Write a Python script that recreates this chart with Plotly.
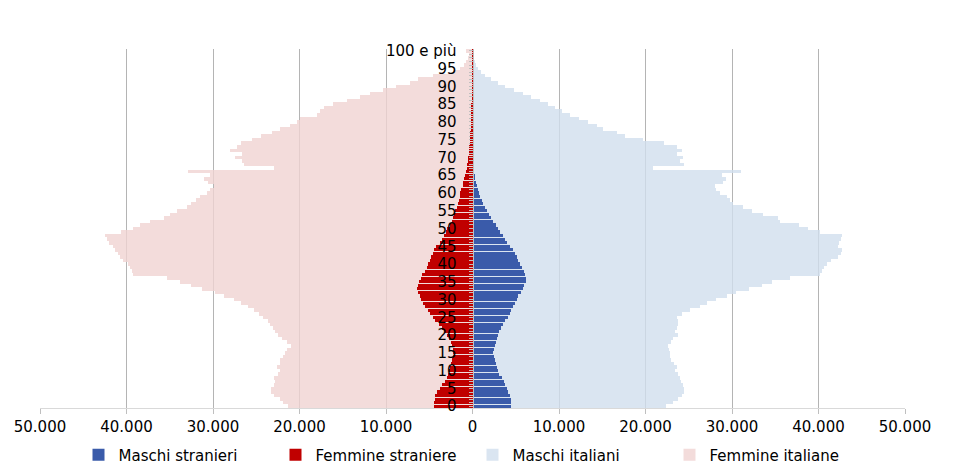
import plotly.graph_objects as go

AGES = list(range(101))
AGE_LABELS = [("100 e più" if a == 100 else str(a)) if a % 5 == 0 else "" for a in AGES]

X_TICKS = [-50000, -40000, -30000, -20000, -10000, 0, 10000, 20000, 30000, 40000, 50000]
X_TICK_TEXT = ["50.000", "40.000", "30.000", "20.000", "10.000", "0",
               "10.000", "20.000", "30.000", "40.000", "50.000"]

maschi_stranieri = [
    4500, 4500, 4400, 4300, 4100, 4000, 3800, 3600, 3400, 3100,
    2900, 2800, 2700, 2550, 2450, 2400, 2450, 2600, 2700, 2800,
    2950, 3100, 3300, 3500, 3800, 4100, 4300, 4500, 4700, 4900,
    5100, 5300, 5600, 5800, 6000, 6200, 6200, 6100, 5900, 5700,
    5500, 5300, 5100, 4900, 4700, 4300, 4000, 3800, 3500, 3200,
    3000, 2700, 2400, 2100, 1900, 1650, 1450, 1250, 1050, 850,
    720, 580, 470, 380, 320, 270, 230, 190, 160, 140,
    120, 105, 95, 85, 75, 65, 55, 50, 45, 40,
    35, 30, 25, 22, 20, 18, 15, 12, 10, 8,
    7, 6, 5, 4, 4, 3, 3, 2, 2, 1, 1]

femmine_straniere = [
    4400, 4400, 4300, 4300, 4100, 3800, 3500, 3200, 3000, 2800,
    2700, 2600, 2500, 2400, 2300, 2250, 2250, 2400, 2500, 2700,
    2900, 3200, 3500, 3900, 4300, 4600, 4900, 5200, 5500, 5700,
    5900, 6100, 6300, 6400, 6300, 6200, 6000, 5800, 5500, 5300,
    5100, 4900, 4800, 4600, 4400, 4200, 3800, 3500, 3300, 3100,
    2900, 2600, 2400, 2200, 2100, 2000, 1850, 1700, 1600, 1500,
    1400, 1300, 1150, 1050, 950, 850, 780, 650, 600, 540,
    480, 430, 390, 350, 320, 290, 260, 240, 210, 120,
    110, 100, 90, 80, 70, 60, 55, 50, 45, 40,
    35, 30, 25, 20, 18, 15, 12, 10, 8, 6, 5]

maschi_italiani = [
    22400, 23200, 23800, 24200, 24400, 24400, 24300, 24100, 24000, 23800,
    23400, 23600, 23300, 23000, 22800, 22800, 22700, 22600, 22900, 23200,
    23700, 23400, 23600, 23800, 23800, 23600, 24200, 25100, 26300, 27100,
    28200, 29400, 30500, 32000, 33500, 34600, 36700, 40200, 40400, 40600,
    41000, 41500, 42200, 42600, 42700, 42300, 42400, 42600, 42700, 40200,
    38800, 37700, 35500, 35300, 33600, 32300, 31300, 30100, 29800, 29400,
    28600, 28200, 28000, 29000, 29300, 28800, 31000, 20900, 24400, 24000,
    24300, 23600, 24200, 23600, 22100, 19700, 17600, 16700, 15100, 14400,
    13300, 12300, 11300, 10400, 9500, 8700, 7800, 6800, 5800, 4800,
    3800, 2900, 2100, 1500, 1000, 600, 400, 250, 150, 100, 150]

femmine_italiane = [
    21300, 21900, 22300, 22900, 23300, 23300, 23000, 22800, 22900, 22500,
    22300, 22600, 22300, 22200, 21900, 21700, 21500, 21000, 21400, 22000,
    22500, 22800, 23100, 23400, 23700, 24200, 24700, 25300, 26000, 26800,
    27600, 28700, 29800, 31300, 32500, 33800, 35300, 39200, 39400, 39600,
    39800, 40400, 40800, 41000, 41300, 41600, 42000, 42300, 42500, 40600,
    39300, 38400, 37300, 35700, 35000, 34200, 33000, 32600, 32000, 31500,
    30700, 30400, 29900, 30600, 31000, 30400, 32900, 23000, 26400, 26600,
    27500, 26700, 28000, 27200, 26800, 25500, 24400, 23200, 22300, 21100,
    20300, 20000, 18000, 17600, 17200, 16100, 14500, 13000, 11900, 10300,
    8800, 7200, 6300, 4600, 2200, 1500, 1000, 700, 500, 350, 800]

FONT = "DejaVu Sans"

fig = go.Figure()
fig.add_trace(go.Bar(y=AGES, x=maschi_italiani, orientation="h", name="Maschi italiani", width=1.0,
                     marker=dict(color="rgba(209,222,238,0.8)", line=dict(width=0)), legendrank=3))
fig.add_trace(go.Bar(y=AGES, x=[-v for v in femmine_italiane], orientation="h", name="Femmine italiane", width=1.0,
                     marker=dict(color="rgba(240,211,210,0.8)", line=dict(width=0)), legendrank=4))
fig.add_trace(go.Bar(y=AGES, x=maschi_stranieri, orientation="h", name="Maschi stranieri", width=0.88,
                     marker=dict(color="#3A5BAA", line=dict(width=0)), legendrank=1))
fig.add_trace(go.Bar(y=AGES, x=[-v for v in femmine_straniere], orientation="h", name="Femmine straniere", width=0.88,
                     marker=dict(color="#C00000", line=dict(width=0)), legendrank=2))

fig.update_layout(
    width=959, height=476, autosize=False,
    margin=dict(l=40, r=54, t=49, b=68, autoexpand=False),
    barmode="overlay", bargap=0,
    plot_bgcolor="white", paper_bgcolor="white",
    font=dict(family=FONT, size=15, color="black"),
    xaxis=dict(range=[-50000, 50000], tickmode="array", tickvals=X_TICKS, ticktext=X_TICK_TEXT,
               showgrid=True, gridcolor="#B4B4B4", gridwidth=1, zeroline=False,
               showline=True, linecolor="#D9D9D9", linewidth=1,
               ticks="outside", ticklen=5, tickcolor="#BFBFBF",
               tickfont=dict(family=FONT, size=15, color="black")),
    yaxis=dict(range=[-0.5, 100.5], tickmode="array", tickvals=AGES, ticktext=AGE_LABELS,
               anchor="free", position=0.5, showgrid=False, zeroline=False,
               showline=True, linecolor="#BFBFBF", linewidth=1,
               ticks="outside", ticklen=4, tickcolor="#BFBFBF", ticklabelstandoff=9,
               tickfont=dict(family=FONT, size=15, color="black")),
    legend=dict(orientation="h", x=0.5, xanchor="center", y=-0.085, yanchor="top",
                itemwidth=30, entrywidth=152, entrywidthmode="pixels",
                font=dict(family=FONT, size=15, color="black"), itemclick=False),
    showlegend=True,
)

fig.write_html("out.html")
